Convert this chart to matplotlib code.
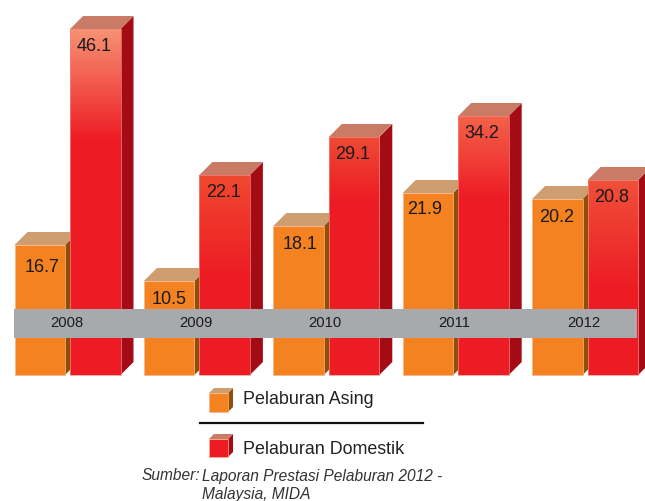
import numpy as np
import matplotlib
matplotlib.use('Agg')
import matplotlib.pyplot as plt
from matplotlib.colors import LinearSegmentedColormap
from matplotlib.patches import Polygon, Rectangle

plt.rcParams['font.family'] = ['Liberation Sans', 'DejaVu Sans']

#%% data
years = ['2008', '2009', '2010', '2011', '2012']
asing = [16.7, 10.5, 18.1, 21.9, 20.2]
domestik = [46.1, 22.1, 29.1, 34.2, 20.8]
# the printed bars are not to scale with their labels, so drawn heights are read separately
asing_drawn = [130, 94, 149, 182, 176]
domestik_drawn = [346, 200, 238, 259, 195]
# height at which the red fade ends, and the colour at the top of each bar
fade_end = [235, 100, 175, 177, 88]
fade_top = ['#F79272', '#F0482F', '#EF4A35', '#F4624A', '#F0503A']

#%% styles
ORANGE = ('#F58220', '#8F4F05', '#CF9E70')
RED = ('#ED1C24', '#A50B14', '#C97B66')
W, H = 645, 501
BASE = 375
DEPTH = 13

fig = plt.figure(figsize=(W / 100, H / 100), dpi=100)
ax = fig.add_axes([0, 0, 1, 1])
ax.set_xlim(0, W)
ax.set_ylim(BASE - H, BASE)   # y = height above the bar base, in pixels
ax.axis('off')


def sides(x0, x1, y0, y1, d, cols, z):
    ax.add_patch(Polygon([(x1, y0), (x1 + d, y0 + d), (x1 + d, y1 + d), (x1, y1)],
                         fc=cols[1], ec='none', zorder=z))
    ax.add_patch(Polygon([(x0, y1), (x0 + d, y1 + d), (x1 + d, y1 + d), (x1, y1)],
                         fc=cols[2], ec='none', zorder=z))


def cube(x0, x1, y0, y1, d, cols, z):
    sides(x0, x1, y0, y1, d, cols, z)
    ax.add_patch(Rectangle((x0, y0), x1 - x0, y1 - y0, fc=cols[0],
                           ec='#F9B48A', lw=0.5, zorder=z + 0.1))


#%% bars
for i in range(len(years)):
    left = 14.5 + 129.4 * i
    oh = asing_drawn[i]
    cube(left, left + 50.5, 0, oh, DEPTH, ORANGE, 2)

    rl = left + 55.5
    rr = rl + 50.5
    rh = domestik_drawn[i]
    sides(rl, rr, 0, rh, DEPTH, RED, 3)
    cm = LinearSegmentedColormap.from_list('fade', [RED[0], fade_top[i]])
    grad = np.clip((np.linspace(rh, 0, 300) - fade_end[i]) / (rh - fade_end[i]), 0, 1)
    ax.imshow(grad[:, None], cmap=cm, vmin=0, vmax=1, extent=(rl, rr, 0, rh),
              aspect='auto', zorder=3.1)
    ax.add_patch(Rectangle((rl, 0), rr - rl, rh, fc='none', ec='#F58A80', lw=0.5, zorder=3.2))

    ax.text(left + 25 + [3, 0, 2, -3, 0][i], oh - [22, 19, 18, 16, 18][i], '%.1f' % asing[i],
            ha='center', va='center', fontsize=13, color='#1A1A1A', zorder=5)
    ax.text(rl + 25 - 1, rh - 17, '%.1f' % domestik[i],
            ha='center', va='center', fontsize=13, color='#1A1A1A', zorder=5)
    ax.text(left + 52, BASE - 323, years[i], ha='center', va='center',
            fontsize=10.6, color='#1A1A1A', zorder=7)

# grey year band
ax.add_patch(Rectangle((14, BASE - 338), 623, 29, fc='#A7A9AC', ec='none', zorder=6))

# keep the limits, imshow resets them
ax.set_xlim(0, W)
ax.set_ylim(BASE - H, BASE)

#%% legend
cube(209, 228, BASE - 412, BASE - 393, 5, ORANGE, 2)
ax.text(243, BASE - 400, 'Pelaburan Asing', ha='left', va='center', fontsize=12.9, color='#222222')
ax.plot([200, 423], [BASE - 423, BASE - 423], color='#111111', lw=1.6)
cube(209, 228, BASE - 457, BASE - 439, 5, RED, 2)
ax.text(243, BASE - 449, 'Pelaburan Domestik', ha='left', va='center', fontsize=12.9, color='#222222')

ax.text(142, BASE - 476, 'Sumber:', ha='left', va='center', fontsize=11.2, style='italic', color='#333333')
ax.text(202, BASE - 476, 'Laporan Prestasi Pelaburan 2012 -', ha='left', va='center',
        fontsize=11.2, style='italic', color='#333333')
ax.text(202, BASE - 494, 'Malaysia, MIDA', ha='left', va='center',
        fontsize=11.2, style='italic', color='#333333')

fig.savefig('out.png', dpi=100)
